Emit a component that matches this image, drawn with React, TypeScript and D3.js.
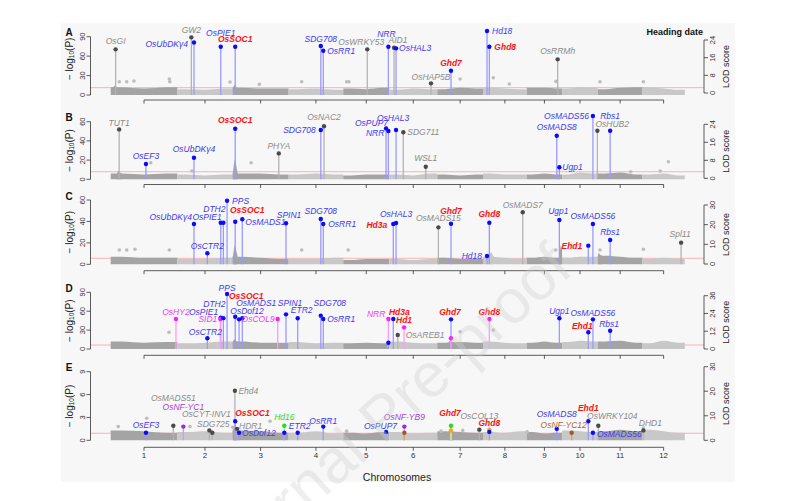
import * as d3 from 'd3';

// rice chromosome lengths (Mb)
const chrLengths = [43.3, 35.9, 36.4, 35.5, 29.9, 31.2, 29.7, 28.4, 23.0, 23.2, 29.0, 27.5];
const chrLabels = ['1', '2', '3', '4', '5', '6', '7', '8', '9', '10', '11', '12'];
const panelKeys = ['A', 'B', 'C', 'D', 'E'];

// gene -> [chromosome, position Mb]
const genePos: Record<string, [number, number]> = {
  OsGI: [1, 3.2], TUT1: [1, 5.5], OsEF3: [1, 22.9], OsMADS51: [1, 40.7], OsHY2: [1, 42.4],
  'OsNF-YC1': [2, 3.9], GW2: [2, 9.1], 'OsUbDKγ4': [2, 10.8], OsCTR2: [2, 19.5], 'OsCYT-INV1': [2, 20.8],
  SDG725: [2, 22.7], SID1: [2, 27.9], OsPIE1: [2, 28.2], DTH2: [2, 29.9], PPS: [2, 32.3],
  Ehd4: [3, 1.5], OsSOC1: [3, 1.7], HDR1: [3, 2.9], OsDof12: [3, 4.2], OsMADS1: [3, 6.3],
  OsCOL9: [3, 29.3], PHYA: [3, 30.0], Hd16: [3, 33.6], SPIN1: [3, 34.7],
  ETR2: [4, 5.9], SDG708: [4, 20.9], OsRR1: [4, 22.5], OsNAC2: [4, 23.0],
  OsWRKY53: [5, 15.6], OsPUP7: [5, 27.8], NRR: [5, 29.3],
  Hd3a: [6, 2.6], AID1: [6, 3.1], OsHAL3: [6, 4.4], OsAREB1: [6, 5.5], SDG711: [6, 9.1],
  Hd1: [6, 9.6], 'OsNF-YB9': [6, 9.8], WSL1: [6, 23.7], OsHAP5B: [6, 27.1],
  OsMADS15: [7, 0.7], Ghd7: [7, 8.9], OsCOL13: [7, 27.3],
  Hd18: [8, 2.6], Ghd8: [8, 4.1], OsMADS7: [8, 25.8],
  OsMADS8: [9, 19.5], OsRRMh: [9, 20.1], Ugp1: [9, 21.2],
  'OsNF-YC12': [10, 6.2], Ehd1: [10, 17.0], OsMADS56: [10, 20.0], OsHUB2: [10, 22.9],
  OsWRKY104: [11, 0.3], Rbs1: [11, 8.0], DHD1: [12, 0.6], Spl11: [12, 25.1],
};

const redGenes = ['OsSOC1', 'Ghd7', 'Ghd8', 'Hd3a', 'Hd1', 'Ehd1'];

// [gene, -log10(P), group, secondary dot]
type Mark = [string, number, string, boolean?];

const marksA: Mark[] = [
  ['OsGI', 70.5, 'g'], ['GW2', 89, 'g'], ['OsUbDKγ4', 81, 'b'], ['OsPIE1', 74.6, 'b'],
  ['OsSOC1', 74.6, 'b'], ['SDG708', 75.6, 'b'], ['OsRR1', 68.4, 'b'], ['OsWRKY53', 70.5, 'g'],
  ['NRR', 74.6, 'b'], ['AID1', 73, 'g'], ['OsHAL3', 72, 'b'], ['OsHAP5B', 18, 'g'],
  ['Ghd7', 37.5, 'b'], ['Hd18', 98.8, 'b'], ['Ghd8', 74.6, 'b'], ['OsRRMh', 55, 'g'],
];
const marksB: Mark[] = [
  ['TUT1', 52, 'g'], ['OsEF3', 16, 'b'], ['OsUbDKγ4', 22.5, 'b'], ['OsSOC1', 52.7, 'b'],
  ['PHYA', 27, 'g'], ['SDG708', 51.4, 'b'], ['OsNAC2', 55.2, 'g'], ['OsPUP7', 53, 'b'],
  ['NRR', 50.3, 'b'], ['OsHAL3', 51.4, 'b'], ['SDG711', 49, 'g'], ['WSL1', 13, 'g'],
  ['OsMADS8', 45.4, 'b'], ['Ugp1', 12.5, 'b'], ['OsMADS56', 66, 'b'], ['OsHUB2', 50.6, 'g'],
  ['Rbs1', 50.6, 'b'],
];
const marksC: Mark[] = [
  ['OsUbDKγ4', 37.6, 'b'], ['OsCTR2', 10.3, 'b'], ['OsPIE1', 38.8, 'b'], ['DTH2', 38.8, 'b'],
  ['PPS', 59.3, 'b'], ['OsSOC1', 39.7, 'b'], ['OsMADS1', 42, 'b'], ['SPIN1', 38.3, 'b'],
  ['SDG708', 42.3, 'b'], ['OsRR1', 37.6, 'b'], ['Hd3a', 37.6, 'b'], ['OsHAL3', 38.5, 'b'],
  ['OsMADS15', 34.5, 'g'], ['Ghd7', 37.9, 'b'], ['Hd18', 7.7, 'b'], ['Ghd8', 38.8, 'b'],
  ['OsMADS7', 48.5, 'g'], ['Ugp1', 41.3, 'b'], ['Ehd1', 17.4, 'b'], ['OsMADS56', 37.6, 'b'],
  ['Rbs1', 22.7, 'b'], ['Spl11', 20.2, 'g'],
];
const marksD: Mark[] = [
  ['OsHY2', 47.6, 'm'], ['OsCTR2', 17, 'b'], ['OsPIE1', 49.7, 'b'], ['SID1', 47.6, 'm'],
  ['DTH2', 49, 'b'], ['PPS', 87.3, 'b'], ['OsSOC1', 51.3, 'b'], ['OsDof12', 47.1, 'b'],
  ['OsMADS1', 48.7, 'b'], ['OsCOL9', 47.6, 'm'], ['SPIN1', 55, 'b'], ['ETR2', 48.7, 'b'],
  ['SDG708', 52.9, 'b'], ['OsRR1', 47.6, 'b'], ['NRR', 47.6, 'm'], ['NRR', 10, 'b', true],
  ['Hd3a', 47.6, 'b'], ['Hd1', 34.4, 'm'], ['OsAREB1', 22.2, 'g'], ['Ghd7', 47.1, 'b'],
  ['Ghd7', 17, 'm', true], ['Ghd8', 47.6, 'm'], ['Ugp1', 48.7, 'b'], ['Ehd1', 26.5, 'b'],
  ['OsMADS56', 47.1, 'b'], ['Rbs1', 29, 'b'],
];
const marksE: Mark[] = [
  ['OsEF3', 1.0, 'b'], ['OsMADS51', 1.9, 'g'], ['OsNF-YC1', 1.8, 'p'], ['OsCYT-INV1', 1.3, 'g'],
  ['SDG725', 1.0, 'g'], ['Ehd4', 6.5, 'g'], ['OsSOC1', 2.5, 'b'], ['HDR1', 1.5, 'g'],
  ['OsDof12', 1.0, 'b'], ['Hd16', 1.9, 'gr'], ['Hd16', 1.0, 'b', true], ['ETR2', 1.0, 'b'],
  ['OsRR1', 1.8, 'b'], ['OsPUP7', 1.1, 'b'], ['OsNF-YB9', 1.8, 'p'], ['OsNF-YB9', 1.0, 'br', true],
  ['Ghd7', 1.9, 'gr'], ['Ghd7', 1.3, 'o', true], ['OsCOL13', 1.4, 'g'], ['Ghd8', 1.4, 'o'],
  ['Ghd8', 1.1, 'b', true], ['OsMADS8', 1.5, 'b'], ['OsNF-YC12', 1.0, 'br'], ['Ehd1', 2.5, 'b'],
  ['OsWRKY104', 1.9, 'g'], ['OsMADS56', 1.0, 'b'], ['DHD1', 1.3, 'g'],
];

// background SNP cloud: upper edge, 3 bins per chromosome
const bandA = [12, 10, 12, 9, 8, 10, 11, 10, 10, 9, 10, 8, 10, 9, 11, 8, 10, 9, 9, 11, 10, 11, 10, 9, 11, 11, 10, 10, 12, 11, 9, 11, 12, 12, 10, 8];
const bandB = [6, 5, 6, 5, 4, 5, 6, 6, 5, 5, 6, 5, 4, 5, 5, 5, 4, 6, 5, 4, 5, 6, 5, 5, 5, 6, 5, 5, 7, 6, 6, 7, 5, 5, 6, 4];
const bandC = [7, 6, 6, 5, 5, 6, 7, 6, 5, 5, 5, 6, 4, 5, 5, 5, 4, 5, 6, 5, 5, 7, 6, 5, 6, 7, 6, 6, 7, 7, 8, 7, 6, 5, 6, 5];
const bandD = [12, 10, 11, 9, 10, 12, 12, 10, 10, 11, 9, 10, 9, 10, 9, 12, 10, 9, 10, 11, 10, 12, 10, 9, 10, 12, 10, 11, 13, 12, 12, 13, 10, 9, 13, 10];
const bandE = [1.3, 1.2, 1.0, 1.1, 1.2, 1.0, 1.3, 1.2, 1.0, 1.0, 1.2, 0.9, 1.0, 0.9, 1.1, 1.1, 0.9, 1.0, 1.2, 1.1, 1.0, 1.1, 1.0, 1.2, 1.1, 0.9, 1.0, 1.3, 1.2, 1.1, 1.2, 1.4, 1.2, 1.4, 1.2, 1.0];

// narrow association peaks rising out of the cloud: [chr, pos, value]
const peaksA = [[3, 1.7, 16], [1, 3.2, 15]];
const peaksB = [[3, 1.7, 21], [1, 5.5, 9]];
const peaksC = [[3, 1.7, 18], [8, 5.5, 12], [9, 22.5, 18], [11, 1.0, 11]];
const peaksD = [[3, 1.7, 16], [7, 8.9, 14]];
const peaksE = [[3, 1.7, 2.0], [7, 8.9, 1.6]];

// scattered SNPs above the cloud: [chr, pos, value]
const outA = [[1, 5.6, 20.5], [1, 10.4, 20.5], [1, 15.1, 21.6], [1, 38.1, 24.7], [1, 38.4, 20.5], [2, 34.2, 20], [3, 17.4, 16.5], [4, 8.5, 20.5], [5, 2.2, 20.5], [5, 3.7, 20.5], [7, 14.8, 24.7], [8, 6.7, 26.7], [8, 17.1, 17], [9, 19.0, 21], [11, 1.4, 20.5], [12, 0.6, 20.5]];
const outB = [[1, 26, 17.3], [2, 9.5, 8.6], [3, 12.0, 17.3], [11, 21.4, 7.9], [12, 11.5, 8.6], [12, 16.8, 18.3]];
const outC = [[1, 5.6, 13.3], [1, 10.4, 13.3], [1, 15.8, 14], [1, 38.1, 13.3], [4, 8.5, 13.3], [5, 3.2, 13.3], [9, 18.8, 13.3], [11, 1.4, 13.3], [12, 0.6, 14]];
const outD = [[1, 37.9, 26.5], [7, 14.8, 27.5], [8, 6.7, 30]];
const outE = [[1, 4.9, 1.8], [1, 23.4, 2.9], [2, 8.2, 1.8], [3, 0.1, 1.7], [3, 24.3, 2.5], [5, 2.2, 1.2], [7, 2.4, 1.2], [7, 16.5, 1.3], [9, 0.3, 1.1], [12, 0.6, 1.6]];

const thresholds = [11.3, 7.9, 5.6, 6.3, 0.92];
const leftTicks = [[0, 30, 60, 90], [0, 20, 40, 60], [0, 20, 40, 60], [0, 30, 60, 90], [0, 3, 6, 9]];
const rightTicks = [[0, 8, 16, 24], [0, 8, 16, 24], [0, 10, 20, 30], [0, 12, 24, 36], [0, 10, 20, 30]];

const panelMarks = [marksA, marksB, marksC, marksD, marksE];
const panelBands = [bandA, bandB, bandC, bandD, bandE];
const panelPeaks = [peaksA, peaksB, peaksC, peaksD, peaksE];
const panelOut = [outA, outB, outC, outD, outE];

// ---- layout (pixels) ----
const frames = [
  { y0: 95, yTop: 36.7, r0: 93, rTop: 40, axisY: 100, ylabShift: -7 },
  { y0: 179.3, yTop: 121.7, r0: 178.3, rTop: 124.3, axisY: 184.5, ylabShift: 0 },
  { y0: 264.3, yTop: 200, r0: 264, rTop: 205, axisY: 270.7, ylabShift: 0 },
  { y0: 349, yTop: 292.3, r0: 349, rTop: 295.7, axisY: 355.3, ylabShift: 0 },
  { y0: 440.3, yTop: 371.7, r0: 440.3, rTop: 366.7, axisY: 447.3, ylabShift: 0 },
];

type Place = [number, number, 'm' | 's' | 'e'];
const labelPlaces: Record<string, Place>[] = [
  {
    OsGI: [0, -8, 'm'], GW2: [0, -7, 'm'], 'OsUbDKγ4': [-6, 1, 'e'], OsPIE1: [0, -14, 'm'],
    OsSOC1: [0, -7.5, 'm'], SDG708: [0, -7, 'm'], OsRR1: [4, 0, 's'], OsWRKY53: [-6, -7, 'm'],
    NRR: [-2, -13, 'm'], AID1: [4, -7.5, 'm'], OsHAL3: [3, 0, 's'], OsHAP5B: [0, -6.5, 'm'],
    Ghd7: [0, -7.5, 'm'], Hd18: [5, 0, 's'], Ghd8: [5, 0, 's'], OsRRMh: [0, -8, 'm'],
  },
  {
    TUT1: [0, -6.5, 'm'], OsEF3: [0, -7.5, 'm'], 'OsUbDKγ4': [0, -9, 'm'], OsSOC1: [0, -8.5, 'm'],
    PHYA: [0, -7.5, 'm'], SDG708: [-5, 0, 'e'], OsNAC2: [0, -9, 'm'], OsPUP7: [2, -5, 'e'],
    NRR: [-4, 2, 'e'], OsHAL3: [-3, -12, 'm'], SDG711: [4, 0, 's'], WSL1: [0, -8.5, 'm'],
    OsMADS8: [0, -8.5, 'm'], Ugp1: [3, 0, 's'], OsMADS56: [-4, 0, 'e'], OsHUB2: [-2, -7, 's'],
    Rbs1: [0, -15, 'm'],
  },
  {
    'OsUbDKγ4': [-2, -7, 'e'], OsCTR2: [0, -7.5, 'm'], OsPIE1: [1, -6, 'e'], DTH2: [-9, -14, 'm'],
    PPS: [5, 0, 's'], OsSOC1: [12, -12, 'm'], OsMADS1: [3, 3, 's'], SPIN1: [3, -8, 'm'],
    SDG708: [0, -7.5, 'm'], OsRR1: [5, 0, 's'], Hd3a: [-6, 1, 'e'], OsHAL3: [0, -9, 'm'],
    OsMADS15: [0, -9, 'm'], Ghd7: [0, -13, 'm'], Hd18: [-5, 0, 'e'], Ghd8: [0, -8.5, 'm'],
    OsMADS7: [0, -7.5, 'm'], Ugp1: [-1, -9, 'm'], Ehd1: [-6, 0, 'e'], OsMADS56: [0, -8, 'm'],
    Rbs1: [0, -8, 'm'], Spl11: [-1, -8.5, 'm'],
  },
  {
    OsHY2: [0, -7, 'm'], OsCTR2: [-2, -6, 'm'], SID1: [-3, 0, 'e'], OsPIE1: [-2.5, -6, 'e'],
    DTH2: [-9, -14, 'm'], PPS: [0, -6.5, 'm'], OsSOC1: [11, -21, 'm'], OsDof12: [8, -8, 'm'],
    OsMADS1: [14, -15, 'm'], OsCOL9: [-3, 0, 'e'], SPIN1: [4, -11, 'm'], ETR2: [4, -8, 'm'],
    SDG708: [9, -13, 'm'], OsRR1: [4, 0, 's'], NRR: [-3, -5, 'e'], Hd3a: [6, -7.5, 'm'],
    Hd1: [0, -7.5, 'm'], OsAREB1: [8, 0, 's'], Ghd7: [-1, -7, 'm'], Ghd8: [0, -7, 'm'],
    Ugp1: [0, -7.5, 'm'], Ehd1: [-6, -6.5, 'm'], OsMADS56: [0, -6, 'm'], Rbs1: [-1, -6.5, 'm'],
  },
  {
    OsEF3: [0, -7.5, 'm'], OsMADS51: [0, -28, 'm'], 'OsNF-YC1': [0, -20, 'm'], 'OsCYT-INV1': [-3, -16, 'm'],
    SDG725: [1, -9, 'm'], Ehd4: [3.5, 0, 's'], OsSOC1: [0, -8.5, 's'], HDR1: [2, -3, 's'],
    OsDof12: [3, 0.5, 's'], Hd16: [0, -8.5, 'm'], ETR2: [2, -7, 'm'], OsRR1: [0, -6, 'm'],
    OsPUP7: [-5.5, -5.5, 'm'], 'OsNF-YB9': [0, -10, 'm'], Ghd7: [-1, -13, 'm'], OsCOL13: [0, -14, 'm'],
    Ghd8: [0, -7, 'm'], OsMADS8: [0, -14.5, 'm'], 'OsNF-YC12': [-8, -8, 'm'], Ehd1: [0, -13, 'm'],
    OsWRKY104: [14, -10, 'm'], OsMADS56: [4, 1.5, 's'], DHD1: [7, -7, 'm'],
  },
];

const dotColor: Record<string, string> = { b: '#0a0aff', g: '#4a4a4a', m: '#ff1aff', p: '#9a2ed6', br: '#a0582a', gr: '#1ee01e', o: '#ffa31a' };
const stemColor: Record<string, string> = { b: '#9a9aff', g: '#b3b3b3', m: '#ff99ff', p: '#c9a0e6', br: '#d0a27e', gr: '#9aee9a', o: '#ffd08a' };
const textColor: Record<string, string> = { b: '#3b3bf2', g: '#8a8a8a', m: '#f03cf0', p: '#a43ee0', br: '#aa6a36', gr: '#2ed62e', o: '#ff9900' };
const anchorOf = { m: 'middle', s: 'start', e: 'end' } as const;

const FONT = "'Liberation Sans', Arial, Helvetica, sans-serif";

const chrStarts = Array.from(d3.cumsum([0, ...chrLengths.slice(0, -1)]));
const genomeLen = d3.sum(chrLengths);
const x = d3.scaleLinear().domain([0, genomeLen]).range([110.7, 684.8]);
const gx = (chr: number, pos: number) => x(chrStarts[chr - 1] + pos);
const chrCenters = chrLengths.map((l, i) => x(chrStarts[i] + l / 2));

const AXIS_L = 90.5;
const AXIS_R = 704;

function Panel({ i }: { i: number }) {
  const f = frames[i];
  const lt = leftTicks[i];
  const rt = rightTicks[i];
  const y = d3.scaleLinear().domain([0, lt[lt.length - 1]]).range([f.y0, f.yTop]);
  const yr = d3.scaleLinear().domain([0, rt[rt.length - 1]]).range([f.r0, f.rTop]);
  const band = panelBands[i];
  const area = d3
    .area<[number, number]>()
    .x((d) => x(d[0]))
    .y0(y(0))
    .y1((d) => y(d[1]))
    .curve(d3.curveMonotoneX);
  const spike = d3
    .area<[number, number]>()
    .x((d) => x(d[0]))
    .y0(y(0))
    .y1((d) => y(d[1]));

  const marks = panelMarks[i];
  const places = labelPlaces[i];
  const ylabY = (f.y0 + f.yTop) / 2 + f.ylabShift;
  const binOf = (c: number, pos: number) => band[c * 3 + Math.min(2, Math.floor((pos / chrLengths[c]) * 3))];

  return (
    <g>
      {/* threshold */}
      <line x1={AXIS_L} x2={AXIS_R} y1={y(thresholds[i])} y2={y(thresholds[i])} stroke="#f5a3a3" strokeWidth={0.8} />

      {/* SNP cloud */}
      {chrLengths.map((len, c) => {
        const s = chrStarts[c];
        const b = band.slice(c * 3, c * 3 + 3);
        const pts: [number, number][] = [
          [s, b[0]], [s + len / 6, b[0]], [s + len / 2, b[1]], [s + (5 * len) / 6, b[2]], [s + len, b[2]],
        ];
        return <path key={c} d={area(pts) || ''} fill={c % 2 === 0 ? '#a4a4a4' : '#c8c8c8'} />;
      })}
      {panelPeaks[i].map((p, k) => {
        const c = p[0] - 1;
        const s = chrStarts[c];
        const lo = Math.max(0, p[1] - 1.6);
        const hi = Math.min(chrLengths[c], p[1] + 1.6);
        const pts: [number, number][] = [
          [s + lo, binOf(c, lo)], [s + p[1] - 0.4, p[2]], [s + p[1] + 0.4, p[2] * 0.8], [s + hi, binOf(c, hi)],
        ];
        return <path key={'pk' + k} d={spike(pts) || ''} fill={c % 2 === 0 ? '#a4a4a4' : '#c8c8c8'} />;
      })}
      {panelOut[i].map((d, k) => (
        <circle key={k} cx={gx(d[0], d[1])} cy={y(d[2])} r={1.8} fill="#bdbdbd" />
      ))}

      {/* gene stems and dots */}
      {marks.map((m, k) => {
        const [c, p] = genePos[m[0]];
        return <line key={'s' + k} x1={gx(c, p)} x2={gx(c, p)} y1={y(0)} y2={y(m[1])} stroke={stemColor[m[2]]} strokeWidth={1.3} />;
      })}
      {marks.map((m, k) => {
        const [c, p] = genePos[m[0]];
        return <circle key={'d' + k} cx={gx(c, p)} cy={y(m[1])} r={2.2} fill={dotColor[m[2]]} />;
      })}
      {marks.map((m, k) => {
        if (m[3]) return null;
        const pl = places[m[0]];
        if (!pl) return null;
        const [c, p] = genePos[m[0]];
        const red = redGenes.includes(m[0]);
        return (
          <text
            key={'t' + k}
            x={gx(c, p) + pl[0]}
            y={y(m[1]) + pl[1]}
            textAnchor={anchorOf[pl[2]]}
            dominantBaseline="central"
            fontStyle="italic"
            fontWeight={red ? 'bold' : 'normal'}
            fontSize={8.5}
            fill={red ? '#ff1010' : textColor[m[2]]}
          >
            {m[0]}
          </text>
        );
      })}

      {/* left axis */}
      <line x1={AXIS_L} x2={AXIS_L} y1={y(0)} y2={y(lt[lt.length - 1])} stroke="#333" strokeWidth={0.8} />
      {lt.map((t) => (
        <g key={t}>
          <line x1={AXIS_L - 4} x2={AXIS_L} y1={y(t)} y2={y(t)} stroke="#333" strokeWidth={0.8} />
          <text transform={`translate(${AXIS_L - 8.5},${y(t)}) rotate(-90)`} textAnchor="middle" dominantBaseline="central" fontSize={7.5} fill="#333">
            {t}
          </text>
        </g>
      ))}
      <text transform={`translate(69,${ylabY}) rotate(-90)`} textAnchor="middle" dominantBaseline="central" fontSize={10} fill="#222">
        <tspan>− log</tspan>
        <tspan fontSize={6.5} dy={2}>10</tspan>
        <tspan dy={-2}>(P)</tspan>
      </text>
      <text x={69} y={f.yTop - 4} textAnchor="middle" dominantBaseline="central" fontSize={10} fontWeight="bold" fill="#111">
        {panelKeys[i]}
      </text>

      {/* right axis */}
      <line x1={AXIS_R} x2={AXIS_R} y1={yr(0)} y2={yr(rt[rt.length - 1])} stroke="#333" strokeWidth={0.8} />
      {rt.map((t) => (
        <g key={t}>
          <line x1={AXIS_R} x2={AXIS_R + 4} y1={yr(t)} y2={yr(t)} stroke="#333" strokeWidth={0.8} />
          <text transform={`translate(${AXIS_R + 8.5},${yr(t)}) rotate(-90)`} textAnchor="middle" dominantBaseline="central" fontSize={7.5} fill="#333">
            {t}
          </text>
        </g>
      ))}
      <text transform={`translate(726,${(yr(0) + yr(rt[rt.length - 1])) / 2}) rotate(-90)`} textAnchor="middle" dominantBaseline="central" fontSize={9} fill="#222">
        LOD score
      </text>

      {/* chromosome axis */}
      <line x1={chrCenters[0]} x2={chrCenters[11]} y1={f.axisY} y2={f.axisY} stroke="#333" strokeWidth={0.8} />
      {chrCenters.map((cx, k) => (
        <g key={k}>
          <line x1={cx} x2={cx} y1={f.axisY} y2={f.axisY + 3.5} stroke="#333" strokeWidth={0.8} />
          {i === 4 && (
            <text x={cx} y={f.axisY + 8.5} textAnchor="middle" dominantBaseline="central" fontSize={8} fill="#333">
              {chrLabels[k]}
            </text>
          )}
        </g>
      ))}
    </g>
  );
}

export default function App() {
  return (
    <svg
      width={800}
      height={501}
      viewBox="0 0 800 501"
      style={{ position: 'absolute', left: 0, top: 0, display: 'block', background: '#fff' }}
      fontFamily={FONT}
    >
      <rect x={61} y={23} width={674} height={459} fill="#f7f7f7" />
      {panelKeys.map((k, i) => (
        <Panel key={k} i={i} />
      ))}
      <text x={703} y={32} textAnchor="end" dominantBaseline="central" fontSize={9} fontWeight="bold" fill="#111">
        Heading date
      </text>
      <text x={397} y={477} textAnchor="middle" dominantBaseline="central" fontSize={10.5} fill="#222">
        Chromosomes
      </text>
      <text
        transform="translate(575,272) rotate(-42)"
        textAnchor="end"
        fontSize={62}
        fill="#cfcfcf"
        opacity={0.35}
      >
        Journal Pre-proof
      </text>
    </svg>
  );
}
